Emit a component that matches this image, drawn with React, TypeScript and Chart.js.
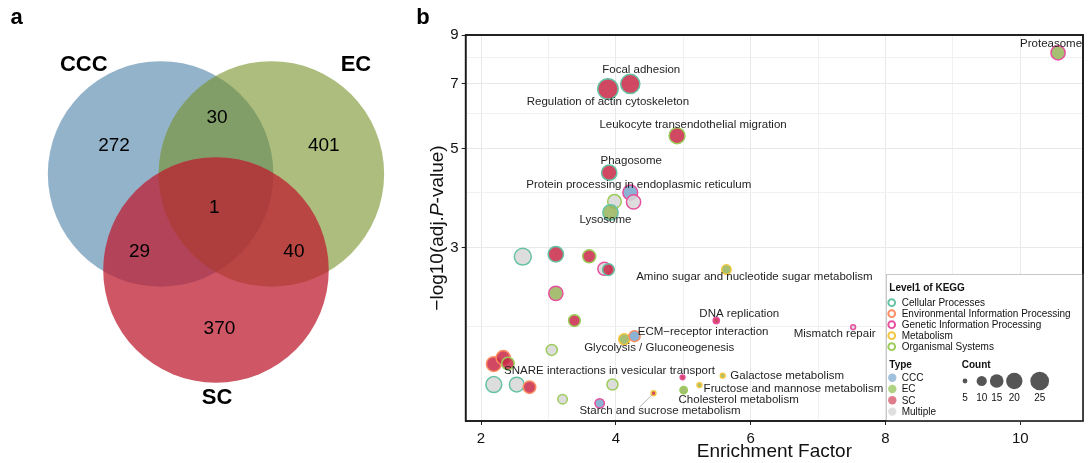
import React, { useEffect, useRef } from 'react';
import { Chart, registerables } from 'chart.js';

Chart.register(...registerables);

// ================= Panel a : Venn diagram data =================
const vennSetNames = ['CCC', 'EC', 'SC'];
// circle centres in Venn units (1 unit = circle radius)
const vennCenterX = [-0.491, 0.491, 0.0];
const vennCenterY = [0.284, 0.284, -0.567];
const vennRegionCounts = [272, 30, 401, 1, 29, 40, 370];
const vennRegionX = [-0.904, 0.009, 0.956, -0.015, -0.678, 0.691, 0.031];
const vennRegionY = [0.532, 0.786, 0.532, -0.012, -0.405, -0.405, -1.09];
const vennSetLabelX = [-1.172, 1.241, 0.009];
const vennSetLabelY = [1.25, 1.25, -1.705];

// ================= Panel b : KEGG enrichment data =================
const pathways = [
  'Proteasome',
  'Regulation of actin cytoskeleton',
  'Focal adhesion',
  'Leukocyte transendothelial migration',
  'Phagosome',
  'Protein processing in endoplasmic reticulum',
  '',
  '',
  'Lysosome',
  '',
  '',
  '',
  '',
  '',
  'Amino sugar and nucleotide sugar metabolism',
  '',
  '',
  'DNA replication',
  'Glycolysis / Gluconeogenesis',
  'ECM\u2212receptor interaction',
  '',
  '',
  '',
  '',
  '',
  '',
  '',
  '',
  'SNARE interactions in vesicular transport',
  'Galactose metabolism',
  'Fructose and mannose metabolism',
  'Cholesterol metabolism',
  'Starch and sucrose metabolism',
  '',
  '',
  'Mismatch repair',
];
const enrichmentFactor = [
  10.56, 3.883, 4.214, 4.908, 3.902, 4.214, 4.263, 3.98, 3.921, 2.62,
  3.11, 3.605, 3.83, 3.89, 5.64, 3.11, 3.386, 5.49, 4.125, 4.278,
  3.05, 2.19, 2.33, 2.4, 2.19, 2.53, 2.72, 3.95, 4.99, 5.585,
  5.24, 5.006, 4.56, 3.21, 3.76, 7.52,
];
const negLog10AdjP = [
  8.21, 6.81, 6.99, 5.35, 4.42, 3.99, 3.8, 3.81, 3.6, 2.865,
  2.9, 2.87, 2.69, 2.68, 2.68, 2.37, 2.06, 2.06, 1.87, 1.9,
  1.77, 1.645, 1.7, 1.65, 1.48, 1.48, 1.46, 1.48, 1.536, 1.549,
  1.476, 1.438, 1.415, 1.372, 1.343, 1.99,
];
const geneCounts = [
  16, 29, 26, 19, 18, 17, 16, 15, 18, 21,
  18, 14, 14, 12, 9, 16, 12, 6, 11, 11,
  11, 17, 16, 13, 19, 17, 13, 11, 5, 5,
  5, 7, 5, 9, 9, 5,
];
const pathwayType = [
  'EC', 'SC', 'SC', 'SC', 'SC', 'CCC', 'Multiple', 'Multiple', 'EC', 'Multiple',
  'SC', 'SC', 'Multiple', 'SC', 'EC', 'EC', 'SC', 'SC', 'EC', 'CCC',
  'Multiple', 'SC', 'SC', 'SC', 'Multiple', 'Multiple', 'SC', 'Multiple', 'SC', 'EC',
  'EC', 'EC', 'SC', 'Multiple', 'CCC', 'Multiple',
];
const keggLevel1 = [
  'Genetic Information Processing', 'Cellular Processes', 'Cellular Processes', 'Organismal Systems',
  'Cellular Processes', 'Genetic Information Processing', 'Genetic Information Processing', 'Organismal Systems',
  'Cellular Processes', 'Cellular Processes', 'Cellular Processes', 'Organismal Systems',
  'Genetic Information Processing', 'Cellular Processes', 'Metabolism', 'Genetic Information Processing',
  'Organismal Systems', 'Genetic Information Processing', 'Metabolism', 'Environmental Information Processing',
  'Organismal Systems', 'Environmental Information Processing', 'Environmental Information Processing', 'Organismal Systems',
  'Cellular Processes', 'Cellular Processes', 'Environmental Information Processing', 'Organismal Systems',
  'Genetic Information Processing', 'Metabolism', 'Metabolism', 'Organismal Systems',
  'Metabolism', 'Organismal Systems', 'Genetic Information Processing', 'Genetic Information Processing',
];

const level1Names = [
  'Cellular Processes',
  'Environmental Information Processing',
  'Genetic Information Processing',
  'Metabolism',
  'Organismal Systems',
];
const typeNames = ['CCC', 'EC', 'SC', 'Multiple'];
const countLegendValues = [5, 10, 15, 20, 25];
const xTickValues = [2, 3, 4, 5, 6, 7, 8, 9, 10];
const xTickLabelled = [2, 4, 6, 8, 10];
const yTickValues = [2, 3, 4, 5, 6, 7, 8, 9];
const yTickLabelled = [3, 5, 7, 9];

// ================= styles / layout =================
const FONT = '"Liberation Sans", Arial, Helvetica, sans-serif';
const vennFill = ['rgba(75,128,167,0.6)', 'rgba(118,145,38,0.6)', 'rgba(190,30,50,0.75)'];
const VENN_W = 420, VENN_H = 463;
const VENN_XMIN = -1.915, VENN_XMAX = 1.809, VENN_YMIN = -2.278, VENN_YMAX = 1.826;
const VENN_PX_PER_UNIT = VENN_W / (VENN_XMAX - VENN_XMIN);

const levelColor: Record<string, string> = {
  'Cellular Processes': '#66c2a5',
  'Environmental Information Processing': '#fc8d62',
  'Genetic Information Processing': '#e7509e',
  'Metabolism': '#f2c53d',
  'Organismal Systems': '#9ccc5a',
};
const typeColor: Record<string, string> = {
  CCC: 'rgba(120,165,205,0.85)',
  EC: 'rgba(150,180,90,0.85)',
  SC: 'rgba(200,40,70,0.85)',
  Multiple: 'rgba(215,215,215,0.85)',
};
const typeLegendColor: Record<string, string> = {
  CCC: 'rgba(120,165,205,0.7)',
  EC: 'rgba(150,195,90,0.75)',
  SC: 'rgba(210,70,90,0.7)',
  Multiple: 'rgba(215,215,215,0.8)',
};
// label placement (pixel offsets from bubble centre), like ggrepel output
const labelOffsets: Record<string, { dx: number; dy: number; leader?: [number, number] }> = {
  'Proteasome': { dx: -7, dy: -9 },
  'Regulation of actin cytoskeleton': { dx: 0, dy: 13 },
  'Focal adhesion': { dx: 11, dy: -14 },
  'Leukocyte transendothelial migration': { dx: 16, dy: -11 },
  'Phagosome': { dx: 22, dy: -12 },
  'Protein processing in endoplasmic reticulum': { dx: 8.5, dy: -8 },
  'Lysosome': { dx: -5, dy: 7 },
  'Amino sugar and nucleotide sugar metabolism': { dx: 28, dy: 7 },
  'DNA replication': { dx: 23, dy: -7 },
  'Glycolysis / Gluconeogenesis': { dx: 35, dy: 9 },
  'ECM\u2212receptor interaction': { dx: 68.5, dy: -4 },
  'SNARE interactions in vesicular transport': { dx: -73, dy: -6.6 },
  'Galactose metabolism': { dx: 64.5, dy: 0.6 },
  'Fructose and mannose metabolism': { dx: 94, dy: 3.3 },
  'Cholesterol metabolism': { dx: 55, dy: 10 },
  'Starch and sucrose metabolism': { dx: 6.4, dy: 18, leader: [-14, 14] },
  'Mismatch repair': { dx: -18.5, dy: 7 },
};

const C_MIN = 5, C_MAX = 29, R_MIN = 2.4, R_MAX = 10.2;
function countToRadius(c: number) {
  const t = Math.max(0, (c - C_MIN) / (C_MAX - C_MIN));
  return Math.sqrt(R_MIN * R_MIN + (R_MAX * R_MAX - R_MIN * R_MIN) * t);
}

const OX = 400; // left of panel b canvas on the page

const vennTextPlugin = {
  id: 'vennText',
  afterDatasetsDraw(chart: any) {
    const { ctx, scales } = chart;
    const sx = scales.x, sy = scales.y;
    ctx.save();
    ctx.fillStyle = '#000';
    ctx.textAlign = 'center';
    ctx.textBaseline = 'middle';
    ctx.font = `bold 22px ${FONT}`;
    ctx.fillText('a', 16.5, 18);
    vennSetNames.forEach((n, i) => {
      ctx.fillText(n, sx.getPixelForValue(vennSetLabelX[i]), sy.getPixelForValue(vennSetLabelY[i]));
    });
    ctx.font = `19px ${FONT}`;
    vennRegionCounts.forEach((c, i) => {
      ctx.fillText(String(c), sx.getPixelForValue(vennRegionX[i]), sy.getPixelForValue(vennRegionY[i]));
    });
    ctx.restore();
  },
};

const bubbleDecorPlugin = {
  id: 'bubbleDecor',
  afterDatasetsDraw(chart: any) {
    const { ctx, chartArea: a } = chart;
    const meta = chart.getDatasetMeta(0);
    ctx.save();
    ctx.strokeStyle = '#1a1a1a';
    ctx.lineWidth = 1.6;
    ctx.strokeRect(a.left, a.top, a.right - a.left, a.bottom - a.top);
    ctx.font = `11.5px ${FONT}`;
    ctx.textAlign = 'center';
    ctx.textBaseline = 'middle';
    pathways.forEach((name, i) => {
      const off = labelOffsets[name];
      if (!name || !off) return;
      const el = meta.data[i];
      if (off.leader) {
        ctx.strokeStyle = '#a0a0a0';
        ctx.lineWidth = 0.8;
        ctx.beginPath();
        ctx.moveTo(el.x - 1.5, el.y + 1.5);
        ctx.lineTo(el.x + off.leader[0], el.y + off.leader[1]);
        ctx.stroke();
      }
      ctx.fillStyle = '#1f1f1f';
      ctx.fillText(name, el.x + off.dx, el.y + off.dy);
    });
    ctx.restore();
  },
  afterDraw(chart: any) {
    const { ctx, chartArea: a } = chart;
    ctx.save();
    // panel letter
    ctx.fillStyle = '#000';
    ctx.font = `bold 22px ${FONT}`;
    ctx.textAlign = 'center';
    ctx.textBaseline = 'middle';
    ctx.fillText('b', 423 - OX, 18);
    // x title
    ctx.font = `19px ${FONT}`;
    ctx.fillStyle = '#111';
    ctx.fillText('Enrichment Factor', (a.left + a.right) / 2, 452);
    // y title with italic P
    ctx.save();
    ctx.translate(438 - OX, (a.top + a.bottom) / 2);
    ctx.rotate(-Math.PI / 2);
    const parts: [string, boolean][] = [['\u2212log10(adj.', false], ['P', true], ['-value)', false]];
    let total = 0;
    const widths = parts.map(([t, it]) => {
      ctx.font = `${it ? 'italic ' : ''}19px ${FONT}`;
      const w = ctx.measureText(t).width;
      total += w;
      return w;
    });
    let x = -total / 2;
    ctx.textAlign = 'left';
    parts.forEach(([t, it], i) => {
      ctx.font = `${it ? 'italic ' : ''}19px ${FONT}`;
      ctx.fillText(t, x, 0);
      x += widths[i];
    });
    ctx.restore();

    // legend box
    const L = a.right - 197, T = a.bottom - 147;
    ctx.fillStyle = '#fff';
    ctx.fillRect(L, T, a.right - L, a.bottom - T);
    ctx.strokeStyle = '#c8c8c8';
    ctx.lineWidth = 1;
    ctx.strokeRect(L + 0.5, T + 0.5, a.right - L, a.bottom - T);
    ctx.strokeStyle = '#1a1a1a';
    ctx.lineWidth = 1.6;
    ctx.strokeRect(a.left, a.top, a.right - a.left, a.bottom - a.top);

    ctx.textAlign = 'left';
    ctx.textBaseline = 'middle';
    ctx.fillStyle = '#111';
    ctx.font = `bold 10px ${FONT}`;
    ctx.fillText('Level1 of KEGG', L + 3.3, T + 14.3);
    ctx.fillText('Type', L + 3.3, T + 91);
    ctx.fillText('Count', L + 75.7, T + 91);
    ctx.font = `10px ${FONT}`;
    level1Names.forEach((n, i) => {
      const cy = T + 28.7 + 11 * i;
      ctx.beginPath();
      ctx.arc(L + 5.7, cy, 3.4, 0, Math.PI * 2);
      ctx.strokeStyle = levelColor[n];
      ctx.lineWidth = 1.9;
      ctx.stroke();
      ctx.fillStyle = '#111';
      ctx.fillText(n, L + 15.7, cy + 0.5);
    });
    typeNames.forEach((n, i) => {
      const cy = T + 103.7 + 11.3 * i;
      ctx.beginPath();
      ctx.arc(L + 6.3, cy, 4.2, 0, Math.PI * 2);
      ctx.fillStyle = typeLegendColor[n];
      ctx.fill();
      ctx.fillStyle = '#111';
      ctx.fillText(n, L + 15.7, cy + 0.5);
    });
    const keyOffsets = [0, 16.7, 31.7, 49.3, 74.7];
    ctx.textAlign = 'center';
    countLegendValues.forEach((v, i) => {
      const cx = L + 79 + keyOffsets[i];
      ctx.beginPath();
      ctx.arc(cx, T + 107, countToRadius(v), 0, Math.PI * 2);
      ctx.fillStyle = '#555';
      ctx.fill();
      ctx.fillStyle = '#111';
      ctx.fillText(String(v), cx, T + 124.3);
    });
    ctx.restore();
  },
};

export default function App() {
  const refA = useRef<HTMLCanvasElement | null>(null);
  const refB = useRef<HTMLCanvasElement | null>(null);

  useEffect(() => {
    const chartA = new Chart(refA.current as HTMLCanvasElement, {
      type: 'bubble',
      data: {
        datasets: [
          {
            data: vennSetNames.map((_, i) => ({ x: vennCenterX[i], y: vennCenterY[i] })) as any,
            backgroundColor: vennFill,
            borderWidth: 0,
            radius: VENN_PX_PER_UNIT,
            clip: false,
          } as any,
        ],
      },
      options: {
        responsive: false,
        animation: false,
        events: [],
        layout: { padding: 0, autoPadding: false },
        scales: {
          x: { type: 'linear', display: false, min: VENN_XMIN, max: VENN_XMAX, bounds: 'data' },
          y: { type: 'linear', display: false, min: VENN_YMIN, max: VENN_YMAX, bounds: 'data' },
        },
        plugins: { legend: { display: false }, tooltip: { enabled: false } },
      } as any,
      plugins: [vennTextPlugin],
    });

    const chartB = new Chart(refB.current as HTMLCanvasElement, {
      type: 'bubble',
      data: {
        datasets: [
          {
            data: pathways.map((_, i) => ({ x: enrichmentFactor[i], y: negLog10AdjP[i] })) as any,
            backgroundColor: (ctx: any) => typeColor[pathwayType[ctx.dataIndex]],
            borderColor: (ctx: any) => levelColor[keggLevel1[ctx.dataIndex]],
            borderWidth: 1.5,
            radius: (ctx: any) => countToRadius(geneCounts[ctx.dataIndex]),
          } as any,
        ],
      },
      options: {
        responsive: false,
        animation: false,
        events: [],
        layout: { padding: { top: 35, right: 5, left: 0, bottom: 0 }, autoPadding: false },
        scales: {
          x: {
            type: 'linear',
            min: 1.773,
            max: 10.93,
            bounds: 'data',
            afterBuildTicks: (scale: any) => {
              scale.ticks = xTickValues.map((v) => ({ value: v }));
            },
            afterFit: (scale: any) => {
              scale.height = 42;
            },
            ticks: {
              autoSkip: false,
              maxRotation: 0,
              padding: 5,
              color: '#111',
              font: { family: FONT, size: 15 },
              callback: (v: any) => (xTickLabelled.includes(Number(v)) ? String(v) : ''),
            },
            grid: {
              color: (ctx: any) => (ctx.tick && xTickLabelled.includes(ctx.tick.value) ? '#e9e9e9' : '#f1f1f1'),
              lineWidth: 1,
              tickLength: 4,
              tickColor: (ctx: any) => (ctx.tick && xTickLabelled.includes(ctx.tick.value) ? '#222' : 'rgba(0,0,0,0)'),
            },
            border: { display: false },
          },
          y: {
            type: 'logarithmic',
            min: 1.226,
            max: 9,
            bounds: 'data',
            afterBuildTicks: (scale: any) => {
              scale.ticks = yTickValues.map((v) => ({ value: v }));
            },
            afterFit: (scale: any) => {
              scale.width = 465.7 - OX;
            },
            ticks: {
              autoSkip: false,
              padding: 3,
              color: '#111',
              font: { family: FONT, size: 15 },
              callback: (v: any) => (yTickLabelled.includes(Number(v)) ? String(v) : ''),
            },
            grid: {
              color: (ctx: any) => (ctx.tick && yTickLabelled.includes(ctx.tick.value) ? '#e9e9e9' : '#f1f1f1'),
              lineWidth: 1,
              tickLength: 4,
              tickColor: (ctx: any) => (ctx.tick && yTickLabelled.includes(ctx.tick.value) ? '#222' : 'rgba(0,0,0,0)'),
            },
            border: { display: false },
          },
        },
        plugins: { legend: { display: false }, tooltip: { enabled: false } },
      } as any,
      plugins: [bubbleDecorPlugin],
    });

    return () => {
      chartA.destroy();
      chartB.destroy();
    };
  }, []);

  return (
    <div style={{ position: 'fixed', left: 0, top: 0, width: 1088, height: 463, background: '#fff' }}>
      <canvas ref={refA} width={VENN_W} height={VENN_H} style={{ position: 'absolute', left: 0, top: 0, width: VENN_W, height: VENN_H }} />
      <canvas ref={refB} width={688} height={463} style={{ position: 'absolute', left: OX, top: 0, width: 688, height: 463 }} />
    </div>
  );
}
